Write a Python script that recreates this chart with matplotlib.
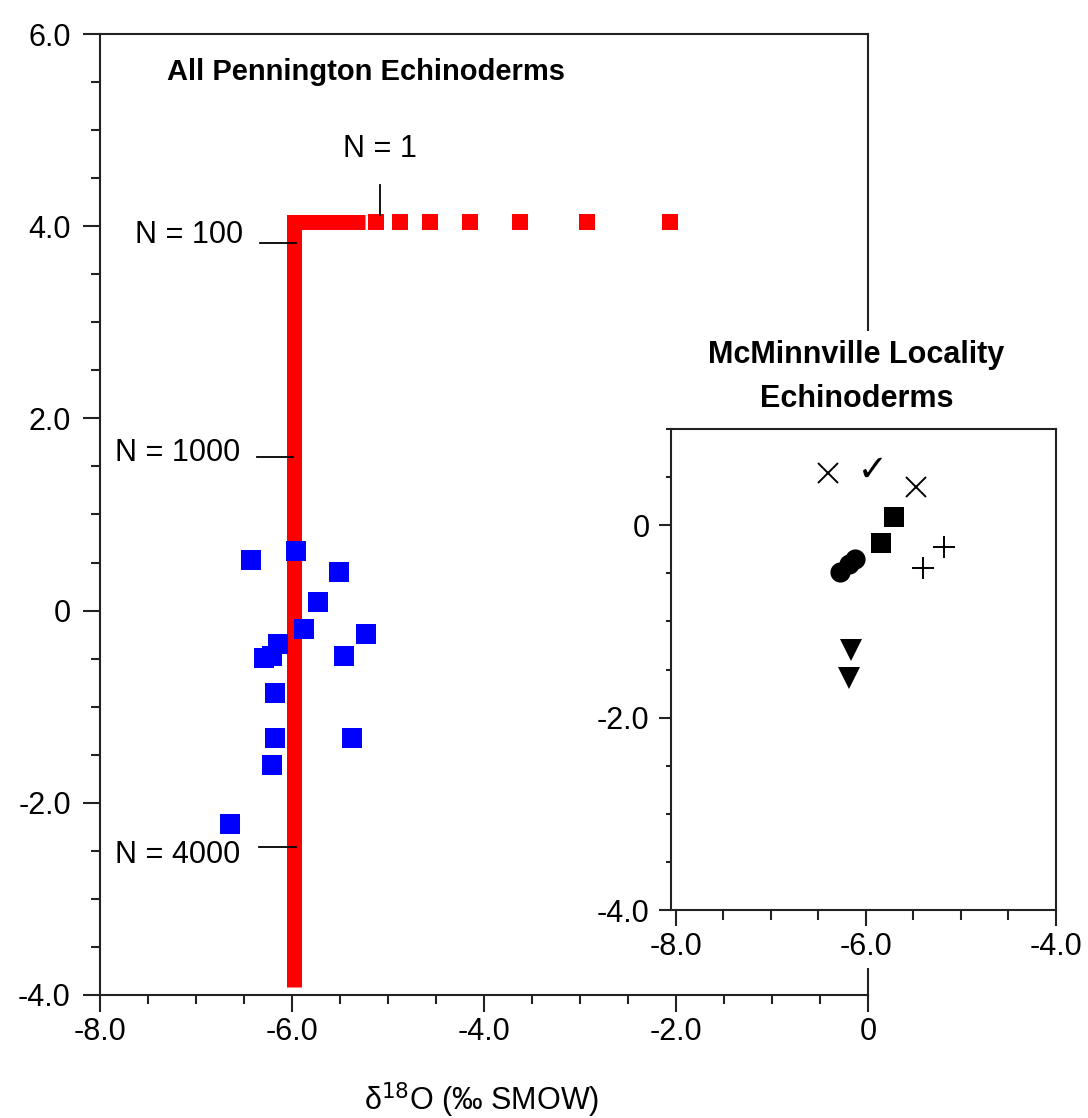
import matplotlib.pyplot as plt
from matplotlib.patches import Rectangle
from matplotlib.ticker import MultipleLocator, FixedLocator, FixedFormatter

plt.rcParams['font.family'] = ['Liberation Sans', 'DejaVu Sans']

# running mean trace (thick path for large N, single squares for small N)
red_path_x = [-5.98, -5.98, -5.24]
red_path_y = [-3.92, 4.04, 4.04]
red_sq_x = [-5.125, -4.875, -4.56, -4.15, -3.625, -2.93, -2.06]
red_sq_y = [4.04, 4.04, 4.04, 4.04, 4.04, 4.04, 4.04]

# all Pennington echinoderm samples
blue_x = [-6.43, -5.955, -5.51, -5.73, -5.87, -5.23, -6.15, -6.21, -6.29,
          -5.455, -6.18, -6.18, -5.37, -6.21, -6.65]
blue_y = [0.53, 0.62, 0.40, 0.09, -0.19, -0.24, -0.35, -0.47, -0.49,
          -0.47, -0.86, -1.33, -1.33, -1.61, -2.22]

# N labels: text, leader line x-range, leader y
n_text = ["N = 100", "N = 1000", "N = 4000"]
n_line_x0 = [-6.33, -6.365, -6.345]
n_line_x1 = [-5.96, -5.99, -5.96]
n_line_y = [3.83, 1.60, -2.46]
n_text_x = [-6.51, -6.54, -6.54]
n_text_y = [3.82, 1.56, -2.63]
n1_x = -5.08
n1_line_y = [4.43, 4.115]
n1_text_y = 4.72

# McMinnville locality, by marker type
mc_x_x = [-6.40, -5.47]
mc_x_y = [0.54, 0.40]
mc_chk_x = [-5.94]
mc_chk_y = [0.61]
mc_sq_x = [-5.70, -5.84]
mc_sq_y = [0.09, -0.18]
mc_o_x = [-6.27, -6.18, -6.11]
mc_o_y = [-0.49, -0.40, -0.35]
mc_plus_x = [-5.18, -5.40]
mc_plus_y = [-0.23, -0.45]
mc_tri_x = [-6.155, -6.18]
mc_tri_y = [-1.30, -1.59]

main_xticks = [-8, -6, -4, -2, 0]
main_xlabels = ["-8.0", "-6.0", "-4.0", "-2.0", "0"]
main_yticks = [-4, -2, 0, 2, 4, 6]
main_ylabels = ["-4.0", "-2.0", "0", "2.0", "4.0", "6.0"]
ins_xticks = [-8, -6, -4]
ins_xlabels = ["-8.0", "-6.0", "-4.0"]
ins_yticks = [-4, -2, 0]
ins_ylabels = ["-4.0", "-2.0", "0"]

W, H = 1088, 1118
fig = plt.figure(figsize=(W / 100, H / 100), dpi=100)


def px_box(x0, y0, x1, y1):
    return [x0 / W, 1 - y1 / H, (x1 - x0) / W, (y1 - y0) / H]


def style_axes(ax, fs, xpad, ypad, xmaj, xmin, ymaj, ymin):
    for s in ax.spines.values():
        s.set_linewidth(1.5)
        s.set_color('#222222')
    ax.tick_params(which='both', direction='out', width=1.5, colors='#222222',
                   labelsize=fs, labelcolor='black')
    ax.tick_params(axis='x', which='major', length=xmaj, pad=xpad)
    ax.tick_params(axis='x', which='minor', length=xmin)
    ax.tick_params(axis='y', which='major', length=ymaj, pad=ypad)
    ax.tick_params(axis='y', which='minor', length=ymin)


# main panel
ax = fig.add_axes(px_box(100, 34, 868, 995))
ax.set_xlim(-8, 0)
ax.set_ylim(-4, 6)
ax.xaxis.set_major_locator(FixedLocator(main_xticks))
ax.xaxis.set_major_formatter(FixedFormatter(main_xlabels))
ax.yaxis.set_major_locator(FixedLocator(main_yticks))
ax.yaxis.set_major_formatter(FixedFormatter(main_ylabels))
ax.xaxis.set_minor_locator(MultipleLocator(0.5))
ax.yaxis.set_minor_locator(MultipleLocator(0.5))
style_axes(ax, 22, 4, 9, 12, 6.5, 12, 6.5)

ax.plot(red_path_x, red_path_y, color='red', lw=10.8,
        solid_capstyle='butt', solid_joinstyle='miter', zorder=2)
ax.plot(red_sq_x, red_sq_y, 's', color='red', ms=11.5, mew=0, zorder=2)
ax.plot(blue_x, blue_y, 's', color='blue', ms=15, mew=0, zorder=3)

for i in range(len(n_text)):
    ax.plot([n_line_x0[i], n_line_x1[i]], [n_line_y[i], n_line_y[i]],
            color='black', lw=1.3, zorder=4)
    ax.text(n_text_x[i], n_text_y[i], n_text[i], fontsize=22,
            ha='right', va='baseline', zorder=4)
ax.plot([n1_x, n1_x], n1_line_y, color='black', lw=1.3, zorder=4)
ax.text(n1_x, n1_text_y, "N = 1", fontsize=22, ha='center', va='baseline')

fig.text(167 / W, 1 - 80 / H, "All Pennington Echinoderms", fontsize=21,
         fontweight='bold', ha='left', va='baseline')
fig.text(482 / W, 1 - 1110 / H, 'δ$^{18}$O (‰ SMOW)', fontsize=22,
         ha='center', va='baseline')

# white area under the inset hides the main right spine
fig.patches.append(Rectangle((590 / W, 1 - 968 / H), 498 / W, 637 / H,
                             transform=fig.transFigure, facecolor='white',
                             edgecolor='none', zorder=1))

# inset panel
ins = fig.add_axes(px_box(671, 429, 1056, 910), zorder=2)
ins.set_xlim(-8.05, -4.0)
ins.set_ylim(-4, 1.0)
ins.xaxis.set_major_locator(FixedLocator(ins_xticks))
ins.xaxis.set_major_formatter(FixedFormatter(ins_xlabels))
ins.yaxis.set_major_locator(FixedLocator(ins_yticks))
ins.yaxis.set_major_formatter(FixedFormatter(ins_ylabels))
ins.xaxis.set_minor_locator(MultipleLocator(0.5))
ins.yaxis.set_minor_locator(MultipleLocator(0.5))
style_axes(ins, 22, 4, 7, 11.5, 7, 8.5, 3.5)

ins.plot(mc_x_x, mc_x_y, 'x', color='black', ms=15, mew=1.4)
ins.plot(mc_chk_x, mc_chk_y, marker=r'$\checkmark$', ls='none',
         color='black', ms=14, mew=0)
ins.plot(mc_sq_x, mc_sq_y, 's', color='black', ms=14, mew=0)
ins.plot(mc_o_x, mc_o_y, 'o', color='black', ms=14.5, mew=0)
ins.plot(mc_plus_x, mc_plus_y, '+', color='black', ms=16, mew=1.4)
ins.plot(mc_tri_x, mc_tri_y, 'v', color='black', ms=16, mew=0)

fig.text(856 / W, 1 - 363 / H, "McMinnville Locality", fontsize=22,
         fontweight='bold', ha='center', va='baseline', zorder=3)
fig.text(857 / W, 1 - 407 / H, "Echinoderms", fontsize=22,
         fontweight='bold', ha='center', va='baseline', zorder=3)

fig.savefig('out.png', dpi=100)
